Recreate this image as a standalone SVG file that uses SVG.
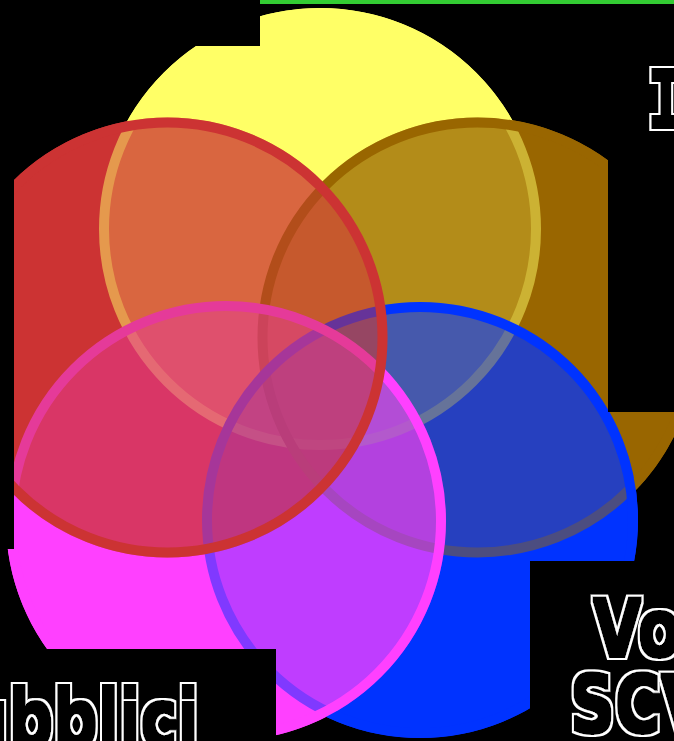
<svg xmlns="http://www.w3.org/2000/svg" width="674" height="741" viewBox="0 0 674 741">
<style>
.ov{fill-opacity:0.5;stroke-width:10}
.y{fill:#FFFF66;stroke:#FFFF66}
.br{fill:#996600;stroke:#996600}
.bl{fill:#0033FF;stroke:#0033FF}
.m{fill:#FF40FF;stroke:#FF40FF}
.r{fill:#CC3333;stroke:#CC3333}
.solid{stroke:none}
.mask{fill:#000}
.lbl{font-family:"DejaVu Sans","Liberation Sans",sans-serif;font-weight:bold;font-size:78px;fill:#000;filter:url(#outl)}
.mono{font-family:"DejaVu Sans Mono","Liberation Mono",monospace}
</style>
<defs>
<filter id="outl" x="-20%" y="-30%" width="140%" height="160%">
<feMorphology in="SourceAlpha" operator="dilate" radius="1.6" result="bold"/>
<feMorphology in="SourceAlpha" operator="dilate" radius="3.6" result="outer"/>
<feFlood flood-color="#ffffff" result="white"/>
<feComposite in="white" in2="outer" operator="in" result="wo"/>
<feFlood flood-color="#000000" result="black"/>
<feComposite in="black" in2="bold" operator="in" result="bo"/>
<feMerge><feMergeNode in="wo"/><feMergeNode in="bo"/></feMerge>
</filter>
</defs>
<rect width="674" height="741" fill="#000"/>
<g id="solids">
<circle class="y solid" cx="320" cy="229" r="221"/>
<circle class="br solid" cx="477.5" cy="337.5" r="220"/>
<circle class="bl solid" cx="420" cy="520" r="218"/>
<circle class="m solid" cx="226" cy="521" r="220"/>
<circle class="r solid" cx="167.5" cy="337.5" r="220"/>
</g>
<g id="set-yellow"><circle class="y ov" cx="320" cy="229" r="216"/></g>
<g id="set-brown"><circle class="br ov" cx="477.5" cy="337.5" r="215"/></g>
<g id="set-blue"><circle class="bl ov" cx="420" cy="520" r="213"/></g>
<g id="set-magenta"><circle class="m ov" cx="226" cy="521" r="215"/></g>
<g id="set-red"><circle class="r ov" cx="167.5" cy="337.5" r="215"/></g>
<g id="masks">
<rect class="mask" x="0" y="0" width="260" height="46"/>
<rect class="mask" x="0" y="0" width="14" height="549"/>
<rect class="mask" x="608" y="10" width="66" height="402"/>
<rect class="mask" x="0" y="649" width="276" height="92"/>
<rect class="mask" x="530" y="561" width="144" height="180"/>
</g>
<rect x="260" y="0" width="414" height="4" fill="#33CC33"/>
<g id="labels">
<text class="lbl mono" transform="translate(647,127) scale(0.8,1)">I</text>
<text class="lbl" transform="translate(593,656) scale(0.8,1)">Vo</text>
<text class="lbl" transform="translate(570,732) scale(0.8,1)">SCV</text>
<text class="lbl" transform="translate(-36,746) scale(0.8,1)">ubblici</text>
</g>
</svg>
